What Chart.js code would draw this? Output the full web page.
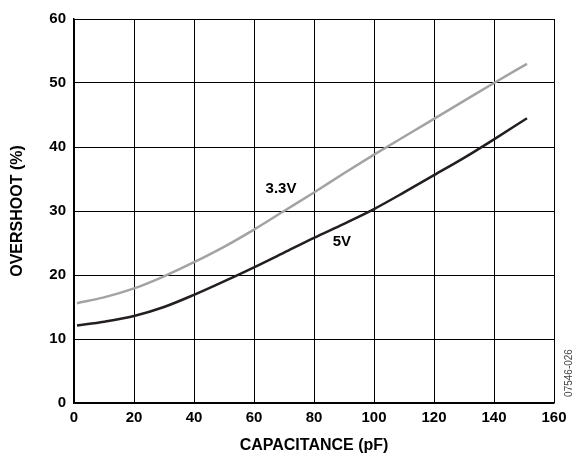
<!DOCTYPE html>
<html>
<head>
<meta charset="utf-8">
<script src="https://cdn.jsdelivr.net/npm/chart.js@4/dist/chart.umd.min.js"></script>
<style>
  html, body { margin: 0; padding: 0; background: #fff; }
  #wrap { width: 574px; height: 454px; position: relative; }
</style>
</head>
<body>
<div id="wrap"><canvas id="myChart"></canvas></div>
<script>
// capacitance (pF) and overshoot (%)
const capacitance = [1, 10, 20, 30, 40, 50, 60, 70, 80, 90, 100, 110, 120, 130, 140, 151];
const overshoot33 = [15.6, 16.5, 17.9, 19.8, 22.0, 24.4, 27.1, 30.0, 32.9, 35.9, 38.8, 41.6, 44.4, 47.2, 50.0, 53.0];
const overshoot5 = [12.1, 12.7, 13.6, 15.0, 16.9, 19.0, 21.2, 23.5, 25.8, 28.0, 30.3, 32.9, 35.6, 38.3, 41.2, 44.5];
const xTicks = [0, 20, 40, 60, 80, 100, 120, 140, 160];
const yTicks = [0, 10, 20, 30, 40, 50, 60];
const curveLabels = [
  { text: '3.3V', x: 69, y: 33.4 },
  { text: '5V', x: 89.3, y: 25.2 }
];
const figureId = '07546-026';

const FONT = '"Liberation Sans", Arial, sans-serif';

function points(ys) {
  return capacitance.map((c, i) => ({ x: c, y: ys[i] }));
}

const textPlugin = {
  id: 'curveText',
  afterDatasetsDraw(chart) {
    const ctx = chart.ctx;
    const xs = chart.scales.x, ys = chart.scales.y;
    ctx.save();
    ctx.fillStyle = '#000';
    ctx.font = 'bold 15px ' + FONT;
    ctx.textAlign = 'center';
    ctx.textBaseline = 'middle';
    curveLabels.forEach(l => {
      ctx.fillText(l.text, xs.getPixelForValue(l.x), ys.getPixelForValue(l.y));
    });
    // figure number, rotated at right edge
    ctx.font = '10px ' + FONT;
    ctx.fillStyle = '#444';
    ctx.translate(chart.width - 5, chart.chartArea.bottom - 30);
    ctx.rotate(-Math.PI / 2);
    ctx.fillText(figureId, 0, 0);
    ctx.restore();
  }
};

new Chart(document.getElementById('myChart'), {
  type: 'line',
  data: {
    datasets: [
      {
        label: '3.3V',
        data: points(overshoot33),
        borderColor: '#a3a3a3',
        borderWidth: 2.5,
        pointRadius: 0,
        cubicInterpolationMode: 'monotone'
      },
      {
        label: '5V',
        data: points(overshoot5),
        borderColor: '#231f20',
        borderWidth: 2.5,
        pointRadius: 0,
        cubicInterpolationMode: 'monotone'
      }
    ]
  },
  options: {
    responsive: true,
    maintainAspectRatio: false,
    animation: false,
    layout: { padding: { top: 19, right: 20, left: 0, bottom: 0 } },
    plugins: { legend: { display: false }, tooltip: { enabled: false } },
    scales: {
      x: {
        type: 'linear',
        min: 0,
        max: 160,
        afterBuildTicks: s => { s.ticks = xTicks.map(v => ({ value: v })); },
        afterFit: s => { s.height = 51; },
        grid: { color: '#000', lineWidth: 1, drawTicks: false },
        border: { color: '#000', width: 1.5 },
        ticks: { color: '#000', padding: 6, maxRotation: 0, font: { family: FONT, size: 15, weight: 'bold' } },
        title: {
          display: true,
          text: 'CAPACITANCE (pF)',
          color: '#000',
          padding: { top: 0, bottom: -1 },
          font: { family: FONT, size: 16, weight: 'bold' }
        }
      },
      y: {
        min: 0,
        max: 60,
        afterBuildTicks: s => { s.ticks = yTicks.map(v => ({ value: v })); },
        afterFit: s => { s.width = 74; },
        grid: { color: '#000', lineWidth: 1, drawTicks: false },
        border: { color: '#000', width: 1.5 },
        ticks: { color: '#000', padding: 8, font: { family: FONT, size: 15, weight: 'bold' } },
        title: {
          display: true,
          text: 'OVERSHOOT (%)',
          color: '#000',
          padding: { top: 8, bottom: 0 },
          font: { family: FONT, size: 16, weight: 'bold' }
        }
      }
    }
  },
  plugins: [textPlugin]
});
</script>
</body>
</html>
